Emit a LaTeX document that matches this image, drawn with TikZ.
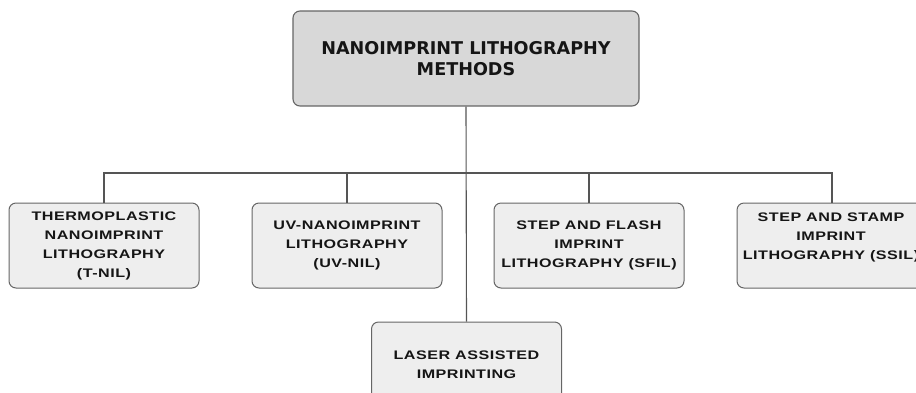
\documentclass[tikz,border=0pt]{standalone}
\usepackage{fontspec}
\setmainfont{DejaVu Sans}
\newfontfamily\titlefont{DejaVu Sans}
\newfontfamily\childfont[FakeStretch=1.3,LetterSpace=4]{Liberation Sans}
\definecolor{topfill}{HTML}{D8D8D8}
\definecolor{childfill}{HTML}{EEEEEE}
\definecolor{edge}{HTML}{666666}
\definecolor{wire}{HTML}{555555}
\definecolor{ink}{HTML}{151515}
\tikzset{
  topbox/.style={draw=edge, line width=1.1pt, fill=topfill, rounded corners=7pt,
    minimum width=346pt, minimum height=95pt, inner sep=0pt, align=center,
    text=ink, font=\titlefont\bfseries\fontsize{17.6}{21}\selectfont},
  childbox/.style={draw=edge, line width=1pt, fill=childfill, rounded corners=7pt,
    minimum width=190pt, minimum height=85pt, inner sep=0pt, align=center,
    text=ink, font=\childfont\bfseries\fontsize{12.4}{19}\selectfont},
  childtext/.style={inner sep=0pt, align=center, text=ink,
    font=\childfont\bfseries\fontsize{12.4}{19}\selectfont},
  wireline/.style={draw=wire, line width=1.1pt}
}
\begin{document}
\begin{tikzpicture}[x=1pt, y=-1pt]
\useasboundingbox (0,0) rectangle (916,392);
\node[topbox] (top) at (466,58.5) {NANOIMPRINT LITHOGRAPHY\\METHODS};
\node[childbox] (b1) at (104,245.5) {THERMOPLASTIC\\NANOIMPRINT\\LITHOGRAPHY\\(T-NIL)};
\node[childbox] (b2) at (347,245.5) {UV-NANOIMPRINT\\LITHOGRAPHY\\(UV-NIL)};
\node[childbox] (b3) at (589,245.5) {STEP AND FLASH\\IMPRINT\\LITHOGRAPHY (SFIL)};
\node[childbox] (b4) at (832,245.5) {};
\node[childtext] (b4t) at (831,237) {STEP AND STAMP\\IMPRINT\\LITHOGRAPHY (SSIL)};
\node[childbox] (laser) at (466.5,364.5) {LASER ASSISTED\\IMPRINTING};
\coordinate (bar) at (0,173);
\draw[wireline] (top.south) -- (laser.north);
\draw[wireline] (b1.north) -- (b1.north |- bar) -- (b4.north |- bar) -- (b4.north);
\draw[wireline] (b2.north) -- (b2.north |- bar);
\draw[wireline] (b3.north) -- (b3.north |- bar);
\end{tikzpicture}
\end{document}
